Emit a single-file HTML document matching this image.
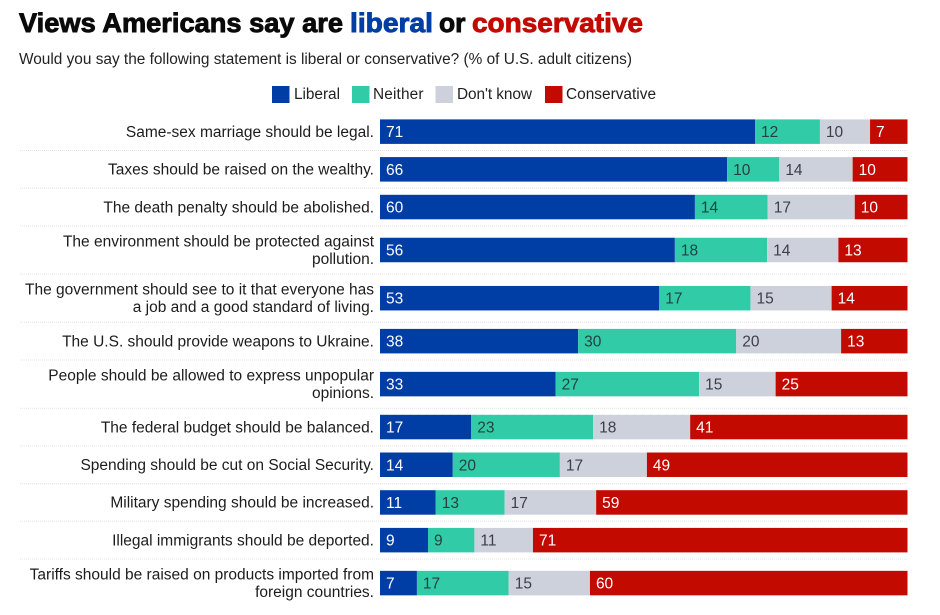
<!DOCTYPE html>
<html lang="en">
<head>
<meta charset="utf-8">
<title>Views Americans say are liberal or conservative</title>
<style>
html,body{margin:0;padding:0;background:#fff;}
body{width:940px;height:615px;overflow:hidden;}
svg{display:block;font-family:"Liberation Sans",sans-serif;}
</style>
</head>
<body>
<svg id="chart" width="940" height="615" viewBox="0 0 940 615" xmlns="http://www.w3.org/2000/svg">
  <rect width="940" height="615" fill="#fff"/>
  <g font-size="27" font-weight="700" stroke-width="0.9">
    <text x="19" y="32" fill="#0a0a0a" stroke="#0a0a0a" textLength="324" lengthAdjust="spacingAndGlyphs">Views Americans say are</text>
    <text x="350" y="32" fill="#003da5" stroke="#003da5" textLength="83" lengthAdjust="spacingAndGlyphs">liberal</text>
    <text x="439" y="32" fill="#0a0a0a" stroke="#0a0a0a" textLength="26.5" lengthAdjust="spacingAndGlyphs">or</text>
    <text x="472" y="32" fill="#c30a00" stroke="#c30a00" textLength="171" lengthAdjust="spacingAndGlyphs">conservative</text>
  </g>
  <text x="19" y="64" font-size="15.4" fill="#222" textLength="613" lengthAdjust="spacing">Would you say the following statement is liberal or conservative? (% of U.S. adult citizens)</text>
  <g font-size="15.4" fill="#222">
    <g><rect x="272" y="86" width="17.5" height="17" fill="#003da5"/><text x="294" y="99" textLength="46" lengthAdjust="spacing">Liberal</text></g>
    <g><rect x="352" y="86" width="17.5" height="17" fill="#31cba8"/><text x="373" y="99" textLength="50.5" lengthAdjust="spacing">Neither</text></g>
    <g><rect x="435.5" y="86" width="17.5" height="17" fill="#cdd1dc"/><text x="457" y="99" textLength="75" lengthAdjust="spacing">Don't know</text></g>
    <g><rect x="545" y="86" width="17.5" height="17" fill="#c30a00"/><text x="566" y="99" textLength="90" lengthAdjust="spacing">Conservative</text></g>
  </g>
  <g id="rows"></g>
</svg>
<script>
var statements = [
  ["Same-sex marriage should be legal."],
  ["Taxes should be raised on the wealthy."],
  ["The death penalty should be abolished."],
  ["The environment should be protected against", "pollution."],
  ["The government should see to it that everyone has", "a job and a good standard of living."],
  ["The U.S. should provide weapons to Ukraine."],
  ["People should be allowed to express unpopular", "opinions."],
  ["The federal budget should be balanced."],
  ["Spending should be cut on Social Security."],
  ["Military spending should be increased."],
  ["Illegal immigrants should be deported."],
  ["Tariffs should be raised on products imported from", "foreign countries."]
];
var liberal =      [71.1, 65.8, 59.7, 55.9, 53.0, 37.6, 33.3, 17.3, 13.8, 10.6, 9.1, 7.0];
var neither =      [12.3,  9.9, 13.8, 17.5, 17.3, 30.0, 27.2, 23.1, 20.3, 13.1, 8.8, 17.4];
var dontKnow =     [ 9.5, 13.9, 16.5, 13.5, 15.4, 19.9, 14.5, 18.4, 16.5, 17.4, 11.1, 15.4];
var conservative = [ 7.1, 10.4, 10.0, 13.1, 14.4, 12.6, 25.0, 41.2, 49.4, 59.2, 71.0, 60.2];

var seriesNames = ["liberal", "neither", "dont-know", "conservative"];
var seriesValues = [liberal, neither, dontKnow, conservative];
var seriesFills = ["#003da5", "#31cba8", "#cdd1dc", "#c30a00"];
var seriesInk = ["#fff", "#26403e", "#3c3f45", "#fff"];

var SVGNS = "http://www.w3.org/2000/svg";
var rowsGroup = document.getElementById("rows");
var plotLeft = 380, plotRight = 907.5, barHeight = 24.5, labelRight = 374;

function xScale(cumulative, total) {
  return plotLeft + (plotRight - plotLeft) * cumulative / total;
}
function rowHeight(lineCount) {
  return lineCount > 1 ? 48.2 : 37.7;
}

var rowTop = 112.8;
statements.forEach(function (lines, i) {
  var h = rowHeight(lines.length);
  var centerY = rowTop + h / 2;

  var row = document.createElementNS(SVGNS, "g");
  
  
  rowsGroup.appendChild(row);

  if (i < statements.length - 1) {
    var sep = document.createElementNS(SVGNS, "line");
    
    
    sep.setAttribute("x1", 20);
    sep.setAttribute("x2", 907.5);
    sep.setAttribute("y1", rowTop + h);
    sep.setAttribute("y2", rowTop + h);
    sep.setAttribute("stroke", "#e3e3e3");
    sep.setAttribute("stroke-width", "1");
    sep.setAttribute("stroke-dasharray", "1 1");
    row.appendChild(sep);
  }

  lines.forEach(function (line, k) {
    var t = document.createElementNS(SVGNS, "text");
    
    
    t.setAttribute("x", labelRight);
    t.setAttribute("y", centerY + 5.2 + (k - (lines.length - 1) / 2) * 17.6);
    t.setAttribute("text-anchor", "end");
    t.setAttribute("font-size", "15.5");
    t.setAttribute("fill", "#1c1c1c");
    t.textContent = line;
    row.appendChild(t);
  });

  var total = 0;
  seriesValues.forEach(function (s) { total += s[i]; });
  var cum = 0;
  seriesValues.forEach(function (s, j) {
    var x0 = xScale(cum, total);
    cum += s[i];
    var x1 = xScale(cum, total);

    var bar = document.createElementNS(SVGNS, "rect");
    
    
    bar.setAttribute("x", x0);
    bar.setAttribute("y", centerY - barHeight / 2);
    bar.setAttribute("width", x1 - x0);
    bar.setAttribute("height", barHeight);
    bar.setAttribute("fill", seriesFills[j]);
    row.appendChild(bar);

    var v = document.createElementNS(SVGNS, "text");
    
    
    v.setAttribute("x", x0 + 6);
    v.setAttribute("y", centerY + 5.5);
    v.setAttribute("font-size", "15.5");
    v.setAttribute("fill", seriesInk[j]);
    v.textContent = Math.round(s[i]);
    row.appendChild(v);
  });

  rowTop += h;
});
</script>
</body>
</html>
